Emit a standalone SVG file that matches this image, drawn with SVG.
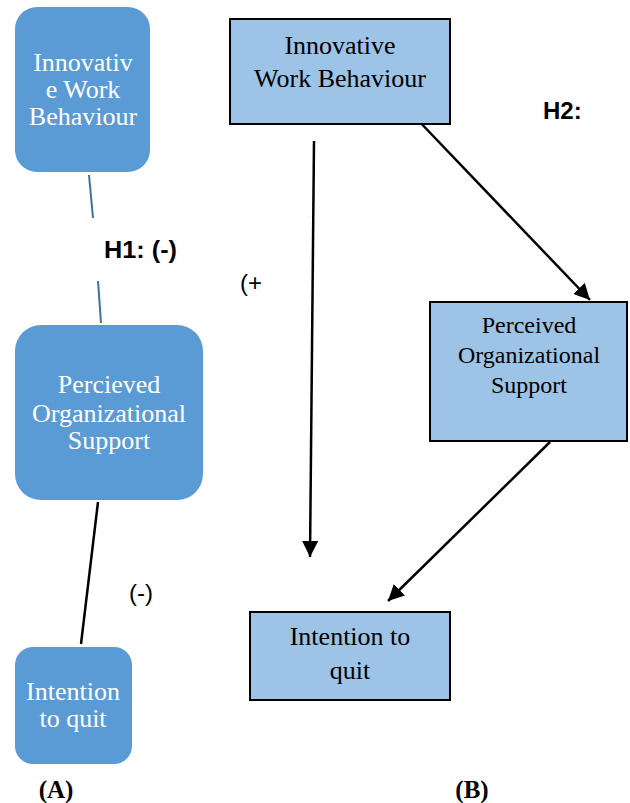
<svg xmlns="http://www.w3.org/2000/svg" width="630" height="803" viewBox="0 0 630 803">
<style>
.rn{fill:#5b9bd5;}
.rt{font-size:26px;fill:#ffffff;text-anchor:middle;}
.bn{fill:#9dc3e6;stroke:#000;stroke-width:2;}
.bt{font-size:26px;fill:#000;text-anchor:middle;}
.lbl{font-size:24px;fill:#000;}
.b{font-weight:bold;}
.cap{font-size:25px;font-weight:bold;fill:#000;text-anchor:middle;}
.ln{stroke:#000;stroke-width:2.5;fill:none;}
.arr{stroke:#000;stroke-width:2.5;fill:none;marker-end:url(#ah);}
</style>
<defs>
<marker id="ah" markerUnits="userSpaceOnUse" markerWidth="18" markerHeight="16" refX="16" refY="8" orient="auto">
<path d="M0,0 L16,8 L0,16 Z" fill="#000"/>
</marker>
</defs>
<g id="connectors">
<line x1="89" y1="175" x2="93" y2="218" stroke="#41719c" stroke-width="2"/>
<line x1="98" y1="281" x2="101" y2="323" stroke="#41719c" stroke-width="2"/>
<line class="ln" x1="98" y1="502" x2="81" y2="644"/>
<line class="arr" x1="314" y1="141" x2="310" y2="557"/>
<line class="arr" x1="415" y1="117" x2="590" y2="300"/>
<line class="arr" x1="550" y1="442" x2="388" y2="601"/>
</g>
<g font-family="'Liberation Serif', 'Times New Roman', serif">
<g id="a-iwb">
<rect class="rn" x="15" y="7" width="135" height="165" rx="22"/>
<text class="rt" x="83" y="71">Innovativ</text>
<text class="rt" x="83" y="98">e Work</text>
<text class="rt" x="83" y="125">Behaviour</text>
</g>
<g id="a-pos">
<rect class="rn" x="15" y="325" width="188" height="175" rx="26"/>
<text class="rt" x="109" y="393">Percieved</text>
<text class="rt" x="109" y="422">Organizational</text>
<text class="rt" x="109" y="449">Support</text>
</g>
<g id="a-itq">
<rect class="rn" x="15" y="647" width="117" height="117" rx="18"/>
<text class="rt" x="73" y="700" font-size="25">Intention</text>
<text class="rt" x="73" y="727" font-size="25">to quit</text>
</g>
<g id="b-iwb">
<rect class="bn" x="230" y="19" width="220" height="105"/>
<text class="bt" x="340" y="54">Innovative</text>
<text class="bt" x="340" y="87">Work Behaviour</text>
</g>
<g id="b-pos">
<rect class="bn" x="430" y="302" width="197" height="139"/>
<text class="bt" x="529" y="333" style="font-size:24px">Perceived</text>
<text class="bt" x="529" y="363" style="font-size:24px">Organizational</text>
<text class="bt" x="529" y="393" style="font-size:24px">Support</text>
</g>
<g id="b-itq">
<rect class="bn" x="250" y="612" width="200" height="88"/>
<text class="bt" x="350" y="645">Intention to</text>
<text class="bt" x="350" y="679">quit</text>
</g>
<text class="cap" x="56" y="798">(A)</text>
<text class="cap" x="472" y="798">(B)</text>
</g>
<g font-family="'Liberation Sans', Arial, sans-serif">
<text class="lbl b" x="104" y="258" textLength="73" lengthAdjust="spacingAndGlyphs" font-size="22">H1: (-)</text>
<text class="lbl" x="129" y="601" font-size="23">(-)</text>
<text class="lbl b" x="543" y="119" font-size="23">H2:</text>
<text class="lbl" x="240" y="291" font-size="23">(+</text>
</g>
</svg>
